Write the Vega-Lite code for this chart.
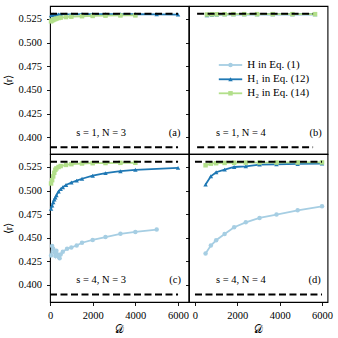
{
  "$schema": "https://vega.github.io/schema/vega-lite/v6.json",
  "padding": {"left": 3, "top": 5, "right": 0, "bottom": 0},
  "background": "white",
  "columns": 2,
  "spacing": 0,
  "bounds": "flush",
  "datasets": {
    "pts": [
      {"p":"a","s":"H1","D":50,"r":0.5288},{"p":"a","s":"H1","D":100,"r":0.5294},{"p":"a","s":"H1","D":150,"r":0.5297},{"p":"a","s":"H1","D":200,"r":0.5292},{"p":"a","s":"H1","D":250,"r":0.5296},{"p":"a","s":"H1","D":300,"r":0.5295},{"p":"a","s":"H1","D":400,"r":0.5297},{"p":"a","s":"H1","D":500,"r":0.5298},{"p":"a","s":"H1","D":750,"r":0.5299},{"p":"a","s":"H1","D":1000,"r":0.5299},{"p":"a","s":"H1","D":1500,"r":0.53},{"p":"a","s":"H1","D":2000,"r":0.53},{"p":"a","s":"H1","D":2600,"r":0.53},{"p":"a","s":"H1","D":3300,"r":0.53},{"p":"a","s":"H1","D":4000,"r":0.53},{"p":"a","s":"H1","D":5000,"r":0.5299},{"p":"a","s":"H1","D":6000,"r":0.5296},
      {"p":"a","s":"H2","D":50,"r":0.5225},{"p":"a","s":"H2","D":100,"r":0.5234},{"p":"a","s":"H2","D":150,"r":0.524},{"p":"a","s":"H2","D":200,"r":0.5246},{"p":"a","s":"H2","D":250,"r":0.525},{"p":"a","s":"H2","D":300,"r":0.5254},{"p":"a","s":"H2","D":400,"r":0.526},{"p":"a","s":"H2","D":500,"r":0.5264},{"p":"a","s":"H2","D":750,"r":0.527},{"p":"a","s":"H2","D":1000,"r":0.5274},{"p":"a","s":"H2","D":1500,"r":0.5279},{"p":"a","s":"H2","D":2000,"r":0.5282},{"p":"a","s":"H2","D":2600,"r":0.5285},{"p":"a","s":"H2","D":3300,"r":0.5287},{"p":"a","s":"H2","D":4000,"r":0.5288},
      {"p":"b","s":"H1","D":500,"r":0.5288},{"p":"b","s":"H1","D":750,"r":0.5293},{"p":"b","s":"H1","D":1000,"r":0.5296},{"p":"b","s":"H1","D":1400,"r":0.5298},{"p":"b","s":"H1","D":1850,"r":0.5299},{"p":"b","s":"H1","D":2400,"r":0.5299},{"p":"b","s":"H1","D":3050,"r":0.53},{"p":"b","s":"H1","D":3850,"r":0.53},{"p":"b","s":"H1","D":4850,"r":0.53},{"p":"b","s":"H1","D":6000,"r":0.53},
      {"p":"b","s":"H2","D":500,"r":0.5297},{"p":"b","s":"H2","D":750,"r":0.5299},{"p":"b","s":"H2","D":1000,"r":0.53},{"p":"b","s":"H2","D":1400,"r":0.53},{"p":"b","s":"H2","D":1850,"r":0.5301},{"p":"b","s":"H2","D":2400,"r":0.5301},{"p":"b","s":"H2","D":3050,"r":0.5301},{"p":"b","s":"H2","D":3850,"r":0.5301},{"p":"b","s":"H2","D":4850,"r":0.5301},{"p":"b","s":"H2","D":6000,"r":0.5301},
      {"p":"c","s":"H","D":50,"r":0.431},{"p":"c","s":"H","D":100,"r":0.441},{"p":"c","s":"H","D":150,"r":0.438},{"p":"c","s":"H","D":200,"r":0.434},{"p":"c","s":"H","D":250,"r":0.4305},{"p":"c","s":"H","D":300,"r":0.436},{"p":"c","s":"H","D":350,"r":0.432},{"p":"c","s":"H","D":400,"r":0.4295},{"p":"c","s":"H","D":450,"r":0.428},{"p":"c","s":"H","D":500,"r":0.432},{"p":"c","s":"H","D":600,"r":0.435},{"p":"c","s":"H","D":800,"r":0.438},{"p":"c","s":"H","D":1000,"r":0.4395},{"p":"c","s":"H","D":1250,"r":0.4415},{"p":"c","s":"H","D":1500,"r":0.4445},{"p":"c","s":"H","D":2000,"r":0.4475},{"p":"c","s":"H","D":2600,"r":0.4505},{"p":"c","s":"H","D":3300,"r":0.454},{"p":"c","s":"H","D":4000,"r":0.456},{"p":"c","s":"H","D":5000,"r":0.4585},
      {"p":"c","s":"H1","D":50,"r":0.4805},{"p":"c","s":"H1","D":100,"r":0.484},{"p":"c","s":"H1","D":150,"r":0.4875},{"p":"c","s":"H1","D":200,"r":0.4905},{"p":"c","s":"H1","D":250,"r":0.4925},{"p":"c","s":"H1","D":300,"r":0.495},{"p":"c","s":"H1","D":400,"r":0.499},{"p":"c","s":"H1","D":500,"r":0.5015},{"p":"c","s":"H1","D":600,"r":0.5035},{"p":"c","s":"H1","D":750,"r":0.5058},{"p":"c","s":"H1","D":1000,"r":0.5085},{"p":"c","s":"H1","D":1250,"r":0.5105},{"p":"c","s":"H1","D":1500,"r":0.5125},{"p":"c","s":"H1","D":2000,"r":0.5157},{"p":"c","s":"H1","D":2600,"r":0.5185},{"p":"c","s":"H1","D":3300,"r":0.5205},{"p":"c","s":"H1","D":4000,"r":0.522},{"p":"c","s":"H1","D":6000,"r":0.524},
      {"p":"c","s":"H2","D":50,"r":0.5075},{"p":"c","s":"H2","D":100,"r":0.511},{"p":"c","s":"H2","D":150,"r":0.515},{"p":"c","s":"H2","D":200,"r":0.5188},{"p":"c","s":"H2","D":250,"r":0.522},{"p":"c","s":"H2","D":300,"r":0.5235},{"p":"c","s":"H2","D":400,"r":0.525},{"p":"c","s":"H2","D":500,"r":0.526},{"p":"c","s":"H2","D":750,"r":0.5272},{"p":"c","s":"H2","D":1000,"r":0.528},{"p":"c","s":"H2","D":1500,"r":0.5287},{"p":"c","s":"H2","D":2000,"r":0.529},{"p":"c","s":"H2","D":2600,"r":0.5292},{"p":"c","s":"H2","D":3300,"r":0.5294},{"p":"c","s":"H2","D":4000,"r":0.5295},
      {"p":"d","s":"H","D":500,"r":0.433},{"p":"d","s":"H","D":750,"r":0.4415},{"p":"d","s":"H","D":1000,"r":0.4471},{"p":"d","s":"H","D":1400,"r":0.4538},{"p":"d","s":"H","D":1850,"r":0.4609},{"p":"d","s":"H","D":2400,"r":0.4662},{"p":"d","s":"H","D":3050,"r":0.4708},{"p":"d","s":"H","D":3850,"r":0.4744},{"p":"d","s":"H","D":4850,"r":0.479},{"p":"d","s":"H","D":6000,"r":0.4832},
      {"p":"d","s":"H1","D":500,"r":0.5063},{"p":"d","s":"H1","D":750,"r":0.5151},{"p":"d","s":"H1","D":1000,"r":0.5194},{"p":"d","s":"H1","D":1400,"r":0.5222},{"p":"d","s":"H1","D":1850,"r":0.525},{"p":"d","s":"H1","D":2400,"r":0.5257},{"p":"d","s":"H1","D":3050,"r":0.5276},{"p":"d","s":"H1","D":3850,"r":0.5279},{"p":"d","s":"H1","D":4850,"r":0.5282},{"p":"d","s":"H1","D":6000,"r":0.5286},
      {"p":"d","s":"H2","D":500,"r":0.5268},{"p":"d","s":"H2","D":750,"r":0.5285},{"p":"d","s":"H2","D":1000,"r":0.529},{"p":"d","s":"H2","D":1400,"r":0.5293},{"p":"d","s":"H2","D":1850,"r":0.5295},{"p":"d","s":"H2","D":2400,"r":0.5296},{"p":"d","s":"H2","D":3050,"r":0.5297},{"p":"d","s":"H2","D":3850,"r":0.5297},{"p":"d","s":"H2","D":4850,"r":0.5298},{"p":"d","s":"H2","D":6000,"r":0.5298}
    ],
    "refs": [
      {"p":"a","r":0.5305,"D":0,"D2":6000},{"p":"a","r":0.3895,"D":0,"D2":6000},
      {"p":"b","r":0.5305,"D":0,"D2":5900},{"p":"b","r":0.3895,"D":0,"D2":5900},
      {"p":"c","r":0.5305,"D":0,"D2":6000},{"p":"c","r":0.3895,"D":0,"D2":6000},
      {"p":"d","r":0.5305,"D":0,"D2":6000},{"p":"d","r":0.3895,"D":0,"D2":6000}
    ],
    "notes": [
      {"p":"a","label":"s = 1, N = 3","tag":"(a)"},
      {"p":"b","label":"s = 1, N = 4","tag":"(b)"},
      {"p":"c","label":"s = 4, N = 3","tag":"(c)"},
      {"p":"d","label":"s = 4, N = 4","tag":"(d)"}
    ],
    "leg": [
      {"s":"H","label":"H in Eq. (1)"},
      {"s":"H1","label":"H₁ in Eq. (12)"},
      {"s":"H2","label":"H₂ in Eq. (14)"}
    ]
  },
  "concat": [
    {
      "width": 138.5, "height": 148,
      "layer": [
        {"data": {"name": "pts"}, "transform": [{"filter": "datum.p === 'a'"}], "mark": {"type": "line", "strokeWidth": 1.8},
         "encoding": {"x": {"field": "D", "type": "quantitative", "scale": {"domain": [0, 6490], "nice": false}, "axis": null},
                      "y": {"field": "r", "type": "quantitative", "scale": {"domain": [0.3824, 0.5387], "nice": false, "zero": false}, "axis": {"values": [0.4, 0.425, 0.45, 0.475, 0.5, 0.525], "format": ".3f", "title": "⟨r⟩", "labelOverlap": false}},
                      "color": {"field": "s", "type": "nominal", "scale": {"domain": ["H", "H1", "H2"], "range": ["#a6cee3", "#1f78b4", "#b2df8a"]}, "legend": null}}},
        {"data": {"name": "pts"}, "transform": [{"filter": "datum.p === 'a'"}], "mark": {"type": "point", "filled": true, "opacity": 1, "size": 20},
         "encoding": {"x": {"field": "D", "type": "quantitative", "axis": null},
                      "y": {"field": "r", "type": "quantitative", "axis": {"values": [0.4, 0.425, 0.45, 0.475, 0.5, 0.525], "format": ".3f", "title": "⟨r⟩", "labelOverlap": false}},
                      "color": {"field": "s", "type": "nominal", "legend": null},
                      "shape": {"field": "s", "type": "nominal", "scale": {"domain": ["H", "H1", "H2"], "range": ["circle", "triangle-up", "square"]}, "legend": null}}},
        {"data": {"name": "refs"}, "transform": [{"filter": "datum.p === 'a'"}], "mark": {"type": "rule", "color": "black", "strokeWidth": 2, "strokeDash": [7, 3.5]},
         "encoding": {"x": {"field": "D", "type": "quantitative", "axis": null}, "x2": {"field": "D2"},
                      "y": {"field": "r", "type": "quantitative", "axis": {"values": [0.4, 0.425, 0.45, 0.475, 0.5, 0.525], "format": ".3f", "title": "⟨r⟩", "labelOverlap": false}}}},
        {"data": {"name": "notes"}, "transform": [{"filter": "datum.p === 'a'"}], "mark": {"type": "text", "font": "Liberation Serif", "fontSize": 10.5, "color": "black", "baseline": "middle"},
         "encoding": {"x": {"datum": 2400}, "y": {"datum": 0.405, "axis": {"values": [0.4, 0.425, 0.45, 0.475, 0.5, 0.525], "format": ".3f", "title": "⟨r⟩", "labelOverlap": false}}, "text": {"field": "label"}}},
        {"data": {"name": "notes"}, "transform": [{"filter": "datum.p === 'a'"}], "mark": {"type": "text", "font": "Liberation Serif", "fontSize": 10.5, "color": "black", "baseline": "middle"},
         "encoding": {"x": {"datum": 5840}, "y": {"datum": 0.405, "axis": {"values": [0.4, 0.425, 0.45, 0.475, 0.5, 0.525], "format": ".3f", "title": "⟨r⟩", "labelOverlap": false}}, "text": {"field": "tag"}}}
      ]
    },
    {
      "width": 138.5, "height": 148,
      "layer": [
        {"data": {"name": "pts"}, "transform": [{"filter": "datum.p === 'b'"}], "mark": {"type": "line", "strokeWidth": 1.8},
         "encoding": {"x": {"field": "D", "type": "quantitative", "scale": {"domain": [-412, 6633], "nice": false}, "axis": null},
                      "y": {"field": "r", "type": "quantitative", "scale": {"domain": [0.3824, 0.5387], "nice": false, "zero": false}, "axis": {"values": [0.4, 0.425, 0.45, 0.475, 0.5, 0.525], "labels": false, "title": null}},
                      "color": {"field": "s", "type": "nominal", "legend": null}}},
        {"data": {"name": "pts"}, "transform": [{"filter": "datum.p === 'b'"}], "mark": {"type": "point", "filled": true, "opacity": 1, "size": 20},
         "encoding": {"x": {"field": "D", "type": "quantitative", "axis": null},
                      "y": {"field": "r", "type": "quantitative", "axis": {"values": [0.4, 0.425, 0.45, 0.475, 0.5, 0.525], "labels": false, "title": null}},
                      "color": {"field": "s", "type": "nominal", "legend": null},
                      "shape": {"field": "s", "type": "nominal", "legend": null}}},
        {"data": {"name": "refs"}, "transform": [{"filter": "datum.p === 'b'"}], "mark": {"type": "rule", "color": "black", "strokeWidth": 2, "strokeDash": [7, 3.5]},
         "encoding": {"x": {"field": "D", "type": "quantitative", "axis": null}, "x2": {"field": "D2"},
                      "y": {"field": "r", "type": "quantitative", "axis": {"values": [0.4, 0.425, 0.45, 0.475, 0.5, 0.525], "labels": false, "title": null}}}},
        {"data": {"name": "leg"}, "transform": [{"filter": "datum.s === 'H'"}], "mark": {"type": "rule", "strokeWidth": 1.8},
         "encoding": {"x": {"datum": 1104}, "x2": {"datum": 2294}, "y": {"datum": 0.4764, "axis": {"values": [0.4, 0.425, 0.45, 0.475, 0.5, 0.525], "labels": false, "title": null}}, "color": {"field": "s", "type": "nominal", "legend": null}}},
        {"data": {"name": "leg"}, "transform": [{"filter": "datum.s === 'H1'"}], "mark": {"type": "rule", "strokeWidth": 1.8},
         "encoding": {"x": {"datum": 1104}, "x2": {"datum": 2294}, "y": {"datum": 0.4613, "axis": {"values": [0.4, 0.425, 0.45, 0.475, 0.5, 0.525], "labels": false, "title": null}}, "color": {"field": "s", "type": "nominal", "legend": null}}},
        {"data": {"name": "leg"}, "transform": [{"filter": "datum.s === 'H2'"}], "mark": {"type": "rule", "strokeWidth": 1.8},
         "encoding": {"x": {"datum": 1104}, "x2": {"datum": 2294}, "y": {"datum": 0.4465, "axis": {"values": [0.4, 0.425, 0.45, 0.475, 0.5, 0.525], "labels": false, "title": null}}, "color": {"field": "s", "type": "nominal", "legend": null}}},
        {"data": {"name": "leg"}, "transform": [{"filter": "datum.s === 'H'"}], "mark": {"type": "point", "filled": true, "opacity": 1, "size": 20},
         "encoding": {"x": {"datum": 1699}, "y": {"datum": 0.4764, "axis": {"values": [0.4, 0.425, 0.45, 0.475, 0.5, 0.525], "labels": false, "title": null}}, "color": {"field": "s", "type": "nominal", "legend": null}, "shape": {"field": "s", "type": "nominal", "legend": null}}},
        {"data": {"name": "leg"}, "transform": [{"filter": "datum.s === 'H1'"}], "mark": {"type": "point", "filled": true, "opacity": 1, "size": 20},
         "encoding": {"x": {"datum": 1699}, "y": {"datum": 0.4613, "axis": {"values": [0.4, 0.425, 0.45, 0.475, 0.5, 0.525], "labels": false, "title": null}}, "color": {"field": "s", "type": "nominal", "legend": null}, "shape": {"field": "s", "type": "nominal", "legend": null}}},
        {"data": {"name": "leg"}, "transform": [{"filter": "datum.s === 'H2'"}], "mark": {"type": "point", "filled": true, "opacity": 1, "size": 20},
         "encoding": {"x": {"datum": 1699}, "y": {"datum": 0.4465, "axis": {"values": [0.4, 0.425, 0.45, 0.475, 0.5, 0.525], "labels": false, "title": null}}, "color": {"field": "s", "type": "nominal", "legend": null}, "shape": {"field": "s", "type": "nominal", "legend": null}}},
        {"data": {"name": "leg"}, "transform": [{"filter": "datum.s === 'H'"}], "mark": {"type": "text", "font": "Liberation Serif", "fontSize": 11, "color": "black", "align": "left", "baseline": "middle"},
         "encoding": {"x": {"datum": 2548}, "y": {"datum": 0.4764, "axis": {"values": [0.4, 0.425, 0.45, 0.475, 0.5, 0.525], "labels": false, "title": null}}, "text": {"field": "label"}}},
        {"data": {"name": "leg"}, "transform": [{"filter": "datum.s === 'H1'"}], "mark": {"type": "text", "font": "Liberation Serif", "fontSize": 11, "color": "black", "align": "left", "baseline": "middle"},
         "encoding": {"x": {"datum": 2548}, "y": {"datum": 0.4613, "axis": {"values": [0.4, 0.425, 0.45, 0.475, 0.5, 0.525], "labels": false, "title": null}}, "text": {"field": "label"}}},
        {"data": {"name": "leg"}, "transform": [{"filter": "datum.s === 'H2'"}], "mark": {"type": "text", "font": "Liberation Serif", "fontSize": 11, "color": "black", "align": "left", "baseline": "middle"},
         "encoding": {"x": {"datum": 2548}, "y": {"datum": 0.4465, "axis": {"values": [0.4, 0.425, 0.45, 0.475, 0.5, 0.525], "labels": false, "title": null}}, "text": {"field": "label"}}},
        {"data": {"name": "notes"}, "transform": [{"filter": "datum.p === 'b'"}], "mark": {"type": "text", "font": "Liberation Serif", "fontSize": 10.5, "color": "black", "baseline": "middle"},
         "encoding": {"x": {"datum": 2224}, "y": {"datum": 0.405, "axis": {"values": [0.4, 0.425, 0.45, 0.475, 0.5, 0.525], "labels": false, "title": null}}, "text": {"field": "label"}}},
        {"data": {"name": "notes"}, "transform": [{"filter": "datum.p === 'b'"}], "mark": {"type": "text", "font": "Liberation Serif", "fontSize": 10.5, "color": "black", "baseline": "middle"},
         "encoding": {"x": {"datum": 6025}, "y": {"datum": 0.405, "axis": {"values": [0.4, 0.425, 0.45, 0.475, 0.5, 0.525], "labels": false, "title": null}}, "text": {"field": "tag"}}}
      ]
    },
    {
      "width": 138.5, "height": 148,
      "layer": [
        {"data": {"name": "pts"}, "transform": [{"filter": "datum.p === 'c'"}], "mark": {"type": "line", "strokeWidth": 1.8},
         "encoding": {"x": {"field": "D", "type": "quantitative", "scale": {"domain": [0, 6490], "nice": false}, "axis": {"values": [0, 2000, 4000, 6000], "format": "d", "title": "𝒟", "labelOverlap": false}},
                      "y": {"field": "r", "type": "quantitative", "scale": {"domain": [0.3815, 0.5388], "nice": false, "zero": false}, "axis": {"values": [0.4, 0.425, 0.45, 0.475, 0.5, 0.525], "format": ".3f", "title": "⟨r⟩", "labelOverlap": false}},
                      "color": {"field": "s", "type": "nominal", "legend": null}}},
        {"data": {"name": "pts"}, "transform": [{"filter": "datum.p === 'c'"}], "mark": {"type": "point", "filled": true, "opacity": 1, "size": 20},
         "encoding": {"x": {"field": "D", "type": "quantitative", "axis": {"values": [0, 2000, 4000, 6000], "format": "d", "title": "𝒟", "labelOverlap": false}},
                      "y": {"field": "r", "type": "quantitative", "axis": {"values": [0.4, 0.425, 0.45, 0.475, 0.5, 0.525], "format": ".3f", "title": "⟨r⟩", "labelOverlap": false}},
                      "color": {"field": "s", "type": "nominal", "legend": null},
                      "shape": {"field": "s", "type": "nominal", "legend": null}}},
        {"data": {"name": "refs"}, "transform": [{"filter": "datum.p === 'c'"}], "mark": {"type": "rule", "color": "black", "strokeWidth": 2, "strokeDash": [7, 3.5]},
         "encoding": {"x": {"field": "D", "type": "quantitative", "axis": {"values": [0, 2000, 4000, 6000], "format": "d", "title": "𝒟", "labelOverlap": false}}, "x2": {"field": "D2"},
                      "y": {"field": "r", "type": "quantitative", "axis": {"values": [0.4, 0.425, 0.45, 0.475, 0.5, 0.525], "format": ".3f", "title": "⟨r⟩", "labelOverlap": false}}}},
        {"data": {"name": "notes"}, "transform": [{"filter": "datum.p === 'c'"}], "mark": {"type": "text", "font": "Liberation Serif", "fontSize": 10.5, "color": "black", "baseline": "middle"},
         "encoding": {"x": {"datum": 2400, "axis": {"values": [0, 2000, 4000, 6000], "format": "d", "title": "𝒟", "labelOverlap": false}}, "y": {"datum": 0.405, "axis": {"values": [0.4, 0.425, 0.45, 0.475, 0.5, 0.525], "format": ".3f", "title": "⟨r⟩", "labelOverlap": false}}, "text": {"field": "label"}}},
        {"data": {"name": "notes"}, "transform": [{"filter": "datum.p === 'c'"}], "mark": {"type": "text", "font": "Liberation Serif", "fontSize": 10.5, "color": "black", "baseline": "middle"},
         "encoding": {"x": {"datum": 5860, "axis": {"values": [0, 2000, 4000, 6000], "format": "d", "title": "𝒟", "labelOverlap": false}}, "y": {"datum": 0.405, "axis": {"values": [0.4, 0.425, 0.45, 0.475, 0.5, 0.525], "format": ".3f", "title": "⟨r⟩", "labelOverlap": false}}, "text": {"field": "tag"}}}
      ]
    },
    {
      "width": 138.5, "height": 148,
      "layer": [
        {"data": {"name": "pts"}, "transform": [{"filter": "datum.p === 'd'"}], "mark": {"type": "line", "strokeWidth": 1.8},
         "encoding": {"x": {"field": "D", "type": "quantitative", "scale": {"domain": [-282, 6259], "nice": false}, "axis": {"values": [0, 2000, 4000, 6000], "format": "d", "title": "𝒟", "labelOverlap": false}},
                      "y": {"field": "r", "type": "quantitative", "scale": {"domain": [0.3815, 0.5388], "nice": false, "zero": false}, "axis": {"values": [0.4, 0.425, 0.45, 0.475, 0.5, 0.525], "labels": false, "title": null}},
                      "color": {"field": "s", "type": "nominal", "legend": null}}},
        {"data": {"name": "pts"}, "transform": [{"filter": "datum.p === 'd'"}], "mark": {"type": "point", "filled": true, "opacity": 1, "size": 20},
         "encoding": {"x": {"field": "D", "type": "quantitative", "axis": {"values": [0, 2000, 4000, 6000], "format": "d", "title": "𝒟", "labelOverlap": false}},
                      "y": {"field": "r", "type": "quantitative", "axis": {"values": [0.4, 0.425, 0.45, 0.475, 0.5, 0.525], "labels": false, "title": null}},
                      "color": {"field": "s", "type": "nominal", "legend": null},
                      "shape": {"field": "s", "type": "nominal", "legend": null}}},
        {"data": {"name": "refs"}, "transform": [{"filter": "datum.p === 'd'"}], "mark": {"type": "rule", "color": "black", "strokeWidth": 2, "strokeDash": [7, 3.5]},
         "encoding": {"x": {"field": "D", "type": "quantitative", "axis": {"values": [0, 2000, 4000, 6000], "format": "d", "title": "𝒟", "labelOverlap": false}}, "x2": {"field": "D2"},
                      "y": {"field": "r", "type": "quantitative", "axis": {"values": [0.4, 0.425, 0.45, 0.475, 0.5, 0.525], "labels": false, "title": null}}}},
        {"data": {"name": "notes"}, "transform": [{"filter": "datum.p === 'd'"}], "mark": {"type": "text", "font": "Liberation Serif", "fontSize": 10.5, "color": "black", "baseline": "middle"},
         "encoding": {"x": {"datum": 2165, "axis": {"values": [0, 2000, 4000, 6000], "format": "d", "title": "𝒟", "labelOverlap": false}}, "y": {"datum": 0.405, "axis": {"values": [0.4, 0.425, 0.45, 0.475, 0.5, 0.525], "labels": false, "title": null}}, "text": {"field": "label"}}},
        {"data": {"name": "notes"}, "transform": [{"filter": "datum.p === 'd'"}], "mark": {"type": "text", "font": "Liberation Serif", "fontSize": 10.5, "color": "black", "baseline": "middle"},
         "encoding": {"x": {"datum": 5647, "axis": {"values": [0, 2000, 4000, 6000], "format": "d", "title": "𝒟", "labelOverlap": false}}, "y": {"datum": 0.405, "axis": {"values": [0.4, 0.425, 0.45, 0.475, 0.5, 0.525], "labels": false, "title": null}}, "text": {"field": "tag"}}}
      ]
    }
  ],
  "config": {
    "font": "Liberation Serif",
    "view": {"stroke": "black", "strokeWidth": 1.1},
    "axis": {"domain": false, "grid": false, "ticks": true, "labelOverlap": false, "tickColor": "black", "tickSize": 3.5, "tickWidth": 0.9, "labelFont": "Liberation Serif", "labelFontSize": 10.5, "labelColor": "black", "labelPadding": 5, "titleFont": "Liberation Serif", "titleFontSize": 10.5, "titleFontWeight": "normal", "titleColor": "black"},
    "axisY": {"titlePadding": 4, "labelPadding": 5},
    "axisX": {"titlePadding": 3, "labelPadding": 5, "labelFlush": false}
  }
}
